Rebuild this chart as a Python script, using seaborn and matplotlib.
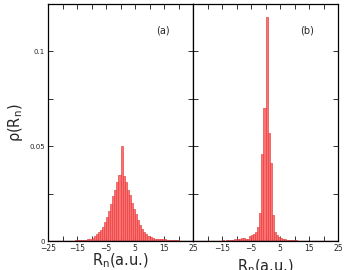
import numpy as np
import pandas as pd
import matplotlib
matplotlib.use("Agg")
import matplotlib.pyplot as plt
import seaborn as sns
from matplotlib.ticker import MultipleLocator

sns.set_theme(style="white")
plt.rcParams['font.family'] = ['DejaVu Sans']

# bins: 70 bins spanning -25..25
n_bins = 70
x_min, x_max = -25, 25
first_bin_a = 7  # index of first listed bin, panel (a)
first_bin_b = 6  # index of first listed bin, panel (b)

# panel (a) heights for bins 7..66
heights_a = [0.0001, 0.0001, 0.0002, 0.0001, 0.0002, 0.0002, 0.0003, 0.0003, 0.0004, 0.0005,
             0.0005, 0.0007, 0.0010, 0.0013, 0.0018, 0.0025, 0.0035, 0.0045, 0.0060, 0.0075,
             0.0100, 0.0125, 0.0160, 0.0195, 0.0235, 0.0270, 0.0310, 0.0350, 0.0500, 0.0345,
             0.0310, 0.0270, 0.0240, 0.0200, 0.0170, 0.0140, 0.0110, 0.0085, 0.0065, 0.0050,
             0.0038, 0.0028, 0.0020, 0.0015, 0.0012, 0.0010, 0.0008, 0.0012, 0.0010, 0.0008,
             0.0006, 0.0005, 0.0004, 0.0004, 0.0003, 0.0003, 0.0002, 0.0002, 0.0001, 0.0001]

# panel (b) heights for bins 6..65
heights_b = [0.0000, 0.0000, 0.0001, 0.0001, 0.0001, 0.0002, 0.0001, 0.0002, 0.0003, 0.0002,
             0.0003, 0.0004, 0.0005, 0.0006, 0.0008, 0.0010, 0.0012, 0.0015, 0.0018, 0.0010,
             0.0010, 0.0025, 0.0030, 0.0037, 0.0047, 0.0074, 0.0147, 0.0460, 0.0700, 0.1180,
             0.0570, 0.0410, 0.0137, 0.0050, 0.0030, 0.0020, 0.0018, 0.0012, 0.0010, 0.0006,
             0.0005, 0.0004, 0.0003, 0.0003, 0.0002, 0.0002, 0.0001, 0.0001, 0.0001, 0.0001,
             0.0001, 0.0000, 0.0000, 0.0000, 0.0000, 0.0000, 0.0000, 0.0000, 0.0000, 0.0000]

panel_labels = ["(a)", "(b)"]
x_ticks = [-25, -15, -5, 5, 15, 25]
x_tick_labels_a = ["\u221225", "\u221215", "\u22125", "5", "15", "25"]
x_tick_labels_b = ["", "\u221215", "\u22125", "5", "15", "25"]
y_ticks = [0, 0.05, 0.1]
y_tick_labels = ["0", "0.05", "0.1"]

edges = np.linspace(x_min, x_max, n_bins + 1)
centers = (edges[:-1] + edges[1:]) / 2

fig = plt.figure(figsize=(3.47, 2.70), dpi=100)
W, H = 347, 270
axa = fig.add_axes([48 / W, 1 - 241 / H, 145 / W, 237 / H])
axb = fig.add_axes([193 / W, 1 - 241 / H, 145 / W, 237 / H])

for ax, hts, fb, lab, xtl in [(axa, heights_a, first_bin_a, panel_labels[0], x_tick_labels_a),
                              (axb, heights_b, first_bin_b, panel_labels[1], x_tick_labels_b)]:
    c = centers[fb:fb + len(hts)]
    df = pd.DataFrame({"x": c, "w": hts})
    sns.histplot(data=df, x="x", weights="w", bins=n_bins, binrange=(x_min, x_max), ax=ax,
                 stat="count", color="#ff7070", alpha=1.0,
                 edgecolor="#e03c3c", linewidth=0.45)
    ax.set_xlim(x_min, x_max)
    ax.set_ylim(0, 0.125)
    ax.set_xticks(x_ticks)
    ax.set_xticklabels(xtl, fontsize=5.5)
    ax.xaxis.set_minor_locator(MultipleLocator(5))
    ax.yaxis.set_minor_locator(MultipleLocator(0.025))
    ax.set_yticks(y_ticks)
    ax.tick_params(which='both', direction='in', top=True, bottom=True,
                   left=True, right=True, width=0.7, color='#333333', pad=2)
    ax.tick_params(which='major', length=3.5)
    ax.tick_params(which='minor', length=3.5)
    for s in ax.spines.values():
        s.set_color('black')
        s.set_linewidth(0.9)
    ax.axhline(0, color='#5a1a1a', lw=1.0, zorder=5)
    ax.set_ylabel("")
    ax.set_xlabel("")
    ax.text(0.79, 0.89, lab, transform=ax.transAxes, fontsize=7, ha='center', va='center')

axa.set_yticklabels(y_tick_labels, fontsize=5)
axb.set_yticklabels([])
axa.set_ylabel("\u03c1(R$_\\mathregular{n}$)", fontsize=10.5, labelpad=3)
axa.set_xlabel("R$_\\mathregular{n}$(a.u.)", fontsize=10.5, labelpad=-1)
axb.set_xlabel("R$_\\mathregular{n}$(a.u.)", fontsize=10.5, labelpad=3.5)

fig.savefig("out.png", dpi=100)
